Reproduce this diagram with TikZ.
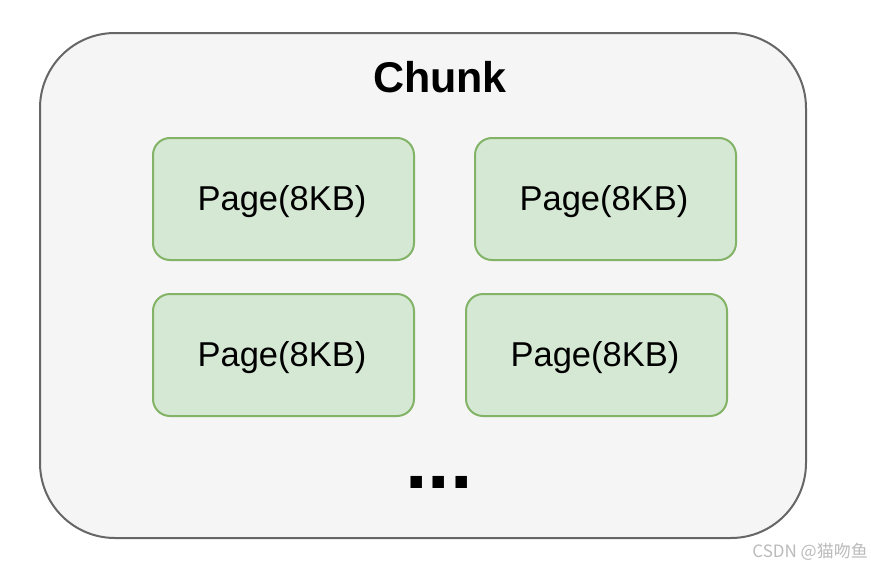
\documentclass[tikz,border=0pt]{standalone}
\usepackage{fontspec}
\setmainfont{Liberation Sans}
\newfontfamily\cjkfont{Noto Sans CJK SC}
\definecolor{chunkfill}{HTML}{F5F5F5}
\definecolor{chunkdraw}{HTML}{666666}
\definecolor{pagefill}{HTML}{D5E8D4}
\definecolor{pagedraw}{HTML}{82B366}
\definecolor{wmark}{HTML}{BBBBBB}
\begin{document}
\begin{tikzpicture}[x=1pt,y=-1pt,
  chunkbox/.style={draw=chunkdraw,fill=chunkfill,line width=2pt,rounded corners=75pt},
  pagebox/.style={draw=pagedraw,fill=pagefill,line width=2pt,rounded corners=17pt},
  pagetext/.style={anchor=base,inner sep=0pt,font=\fontsize{34.5}{40}\selectfont},
]
\useasboundingbox (0,0) rectangle (871,565);
\fill[white] (0,0) rectangle (871,565);
\draw[chunkbox] (40,33) rectangle (806,538);
\node[anchor=base,inner sep=0pt,font=\fontsize{43}{50}\selectfont\bfseries] (title) at (440,92) {Chunk};
\draw[pagebox] (153,138) rectangle (414,260);
\draw[pagebox] (475,138) rectangle (736,260);
\draw[pagebox] (153,294) rectangle (414,416);
\draw[pagebox] (466,294) rectangle (727,416);
\node[pagetext] (p1) at (282,210) {Page(8KB)};
\node[pagetext] (p2) at (604,210) {Page(8KB)};
\node[pagetext] (p3) at (282,366) {Page(8KB)};
\node[pagetext] (p4) at (595,366) {Page(8KB)};
\node[anchor=base,inner sep=0pt,font=\fontsize{81}{90}\selectfont\bfseries] (dots) at (439,488) {...};
\node[anchor=base east,inner sep=0pt,text=wmark,font=\cjkfont\fontsize{17}{19}\selectfont] (wm) at (868,557) {CSDN @猫吻鱼};
\end{tikzpicture}
\end{document}
